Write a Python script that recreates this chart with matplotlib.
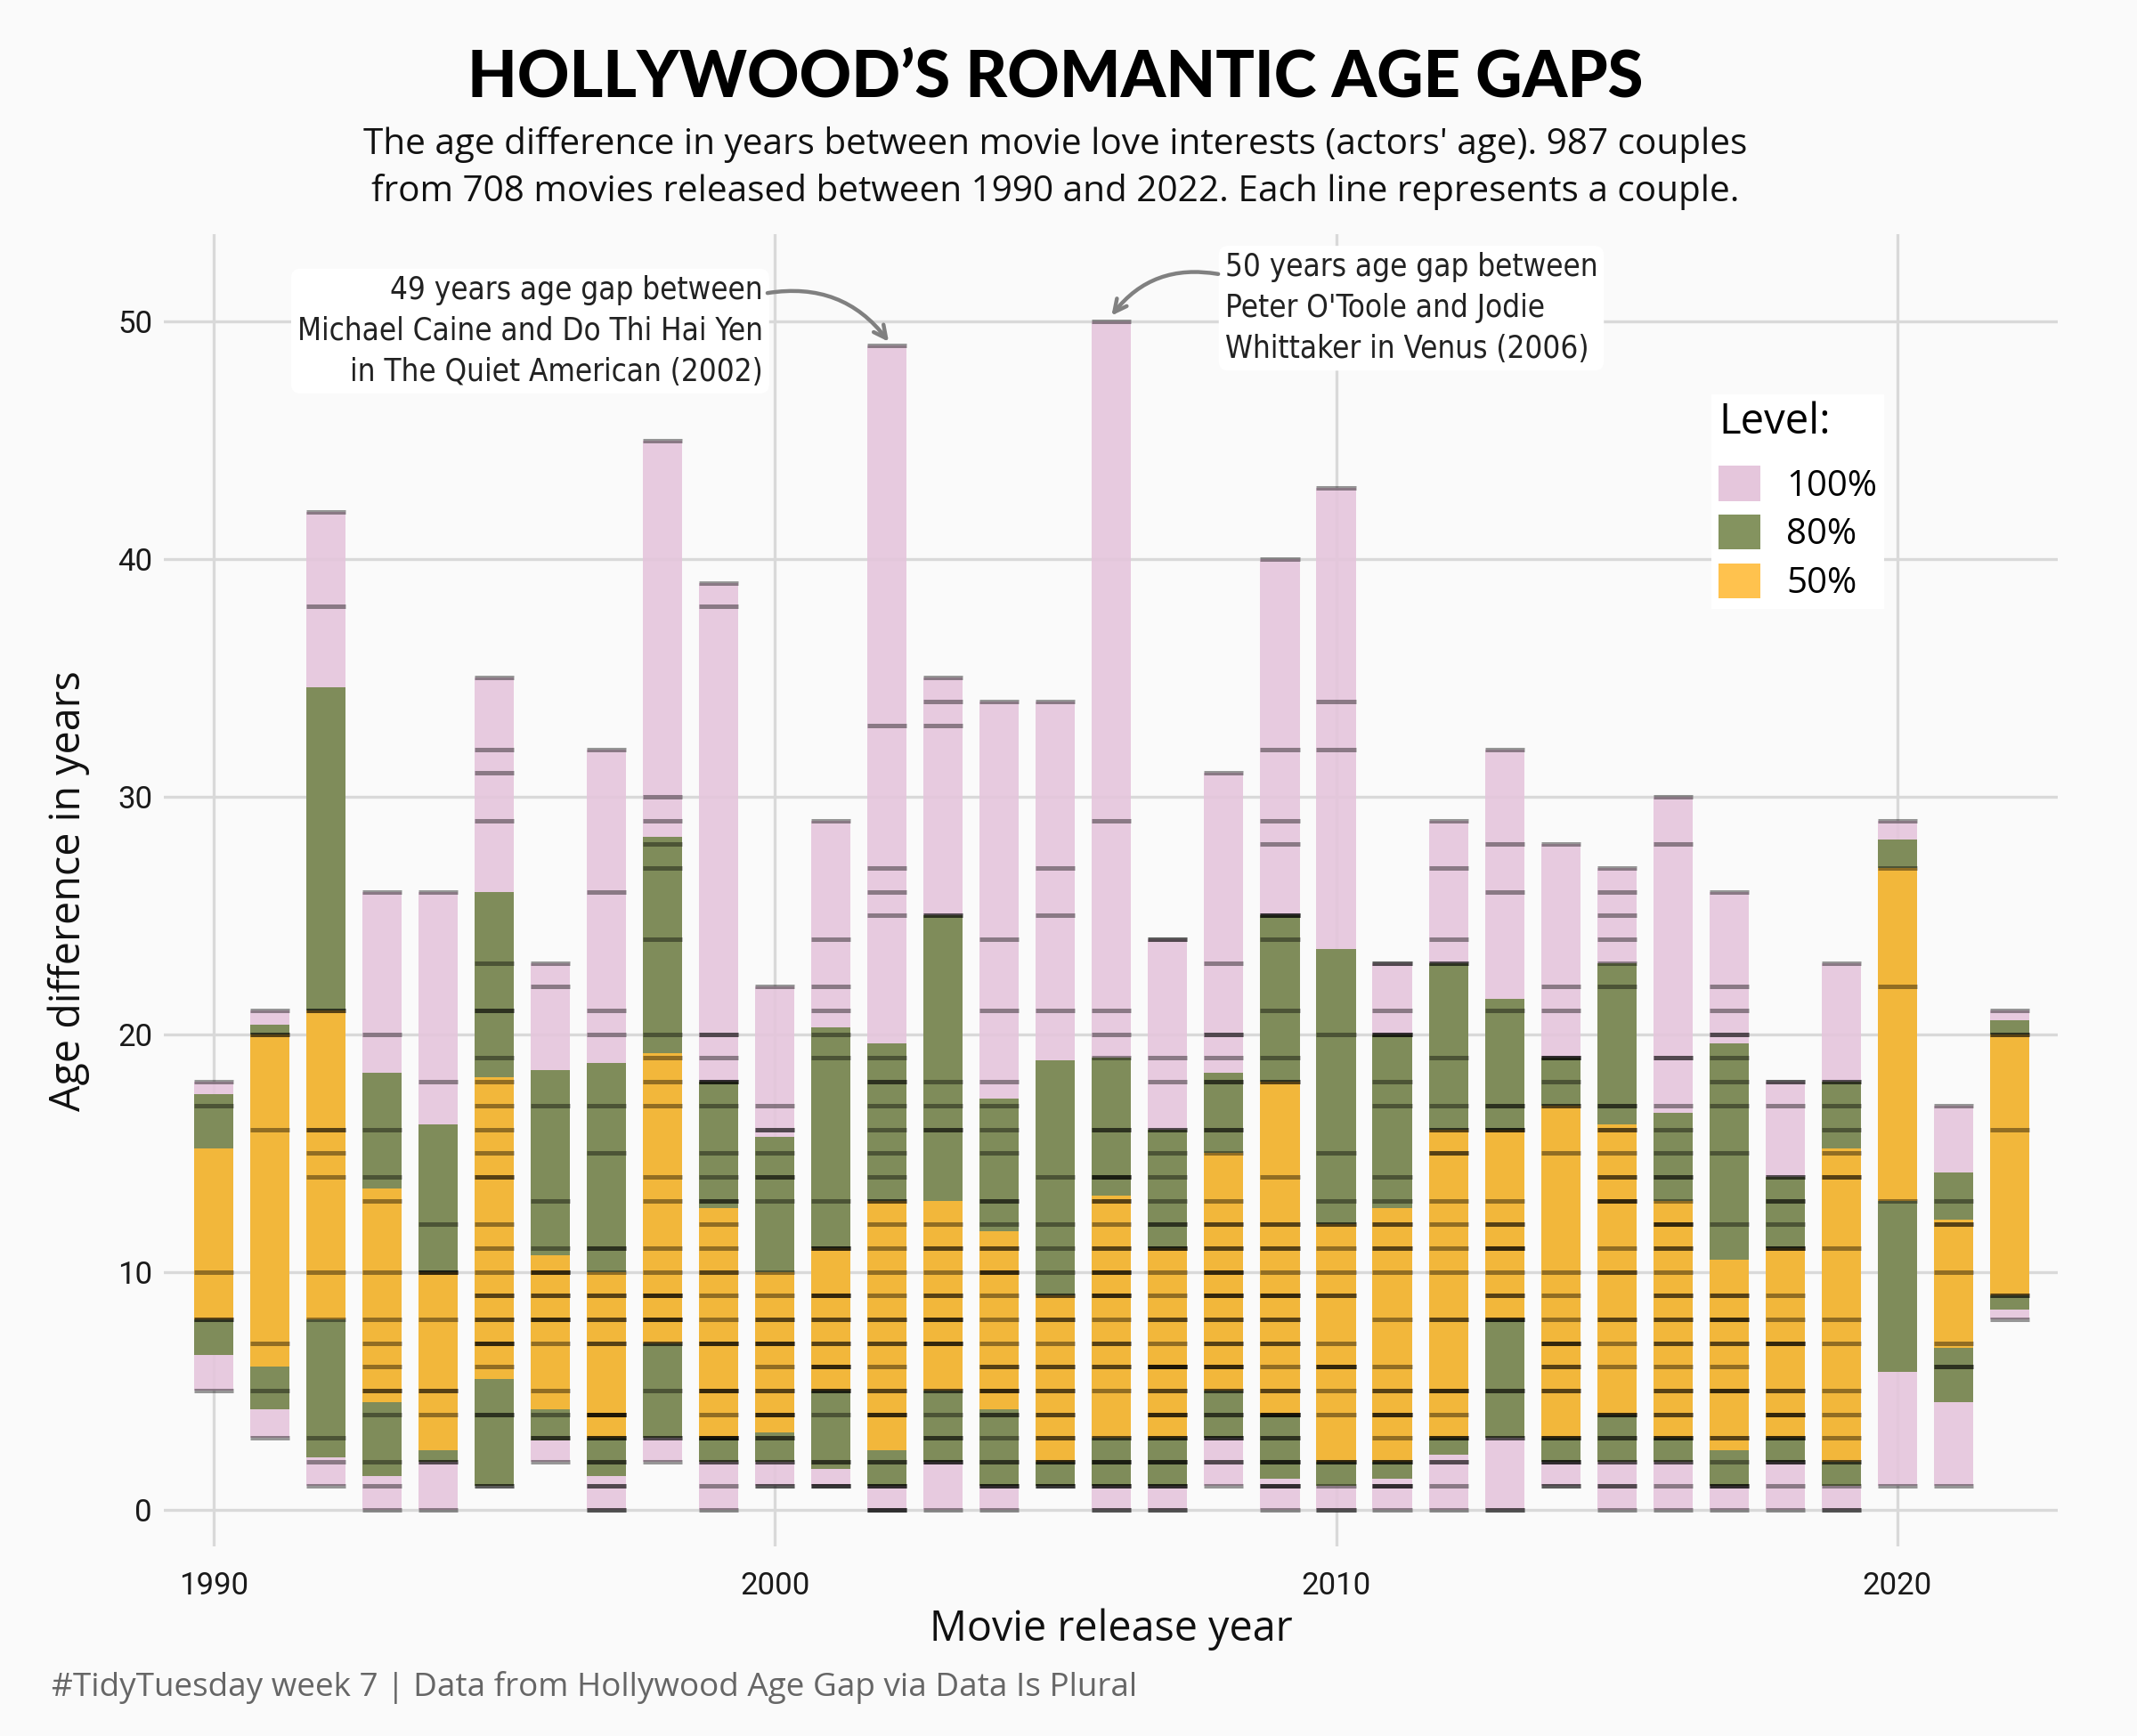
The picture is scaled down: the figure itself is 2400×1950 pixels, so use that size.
import matplotlib
matplotlib.use("Agg")
import matplotlib.pyplot as plt
from matplotlib.patches import Patch

years = list(range(1990, 2023))

# interval edges (80% and 50% ranges)
lo80 = [6.5, 4.2, 2.2, 1.4, 2, 1, 2.9, 1.4, 3, 2,
        2, 1.7, 1, 2, 1, 1, 1, 1, 3, 1.3,
        1, 1.3, 2.3, 3, 2, 2, 2, 1, 2, 1,
        5.8, 4.5, 8.4]
lo50 = [8, 6, 8, 4.5, 2.5, 5.5, 4.2, 3, 7, 3,
        3.25, 5, 2.5, 5, 4.2, 2, 3, 3, 5, 4,
        2, 2, 3, 8, 3, 4, 3, 2.5, 3, 2,
        13, 6.8, 9]
hi50 = [15.2, 20, 21, 13.5, 10, 18.2, 10.7, 10, 19.2, 12.7,
        10, 11, 13, 13, 11.7, 9, 13.2, 11, 15, 18,
        12, 12.7, 16, 16, 17, 16.2, 13, 10.5, 11, 15.2,
        27, 12.2, 20]
hi80 = [17.5, 20.4, 34.6, 18.4, 16.2, 26, 18.5, 18.8, 28.3, 18,
        15.7, 20.3, 19.6, 25, 17.3, 18.9, 19, 16, 18.4, 25,
        23.6, 20, 23, 21.5, 19, 23, 16.7, 19.6, 14, 18,
        28.2, 14.2, 20.6]

# couples per year: (age gap, number of couples)
couples = [
    [(18, 1), (17, 1), (10, 1), (8, 2), (5, 1)],
    [(21, 1), (20, 2), (16, 1), (7, 1), (5, 1), (3, 1)],
    [(42, 1), (38, 1), (21, 2), (16, 2), (15, 1), (14, 1), (10, 1), (8, 1), (3, 1), (2, 1), (1, 1)],
    [(26, 1), (20, 1), (16, 1), (14, 1), (13, 1), (10, 1), (8, 1), (7, 1), (6, 1), (5, 2), (4, 1),
     (2, 1), (1, 1), (0, 1)],
    [(26, 1), (18, 1), (12, 1), (10, 3), (8, 1), (5, 2), (4, 1), (2, 2), (0, 1)],
    [(35, 1), (32, 1), (31, 1), (29, 1), (23, 1), (21, 2), (19, 1), (18, 1), (17, 1), (16, 1),
     (15, 1), (14, 2), (12, 1), (11, 1), (10, 1), (9, 2), (8, 2), (7, 3), (6, 1), (4, 2), (1, 2)],
    [(23, 1), (22, 1), (17, 1), (13, 1), (11, 1), (10, 3), (9, 2), (8, 3), (7, 1), (5, 1), (4, 1),
     (3, 2), (2, 1)],
    [(32, 1), (26, 1), (21, 1), (20, 1), (17, 1), (15, 1), (11, 2), (10, 1), (9, 2), (8, 2), (7, 2),
     (4, 4), (3, 3), (2, 2), (1, 2), (0, 2)],
    [(45, 1), (30, 1), (29, 1), (28, 1), (27, 1), (24, 1), (20, 1), (19, 1), (18, 1), (17, 1),
     (14, 1), (13, 1), (11, 1), (10, 1), (9, 3), (8, 3), (7, 2), (5, 1), (3, 2), (2, 1)],
    [(39, 1), (38, 1), (20, 2), (19, 1), (18, 3), (17, 1), (15, 1), (14, 1), (13, 2), (12, 1),
     (11, 1), (10, 2), (9, 1), (8, 1), (7, 3), (5, 3), (4, 1), (3, 4), (2, 2), (1, 1), (0, 1)],
    [(22, 1), (17, 1), (16, 2), (15, 1), (14, 2), (13, 1), (10, 1), (9, 1), (8, 2), (7, 3), (6, 1),
     (5, 2), (4, 3), (3, 2), (2, 2), (1, 2)],
    [(29, 1), (24, 1), (22, 1), (21, 1), (20, 1), (19, 1), (13, 1), (11, 3), (9, 3), (8, 2), (7, 2),
     (6, 3), (5, 3), (4, 1), (2, 2), (1, 3)],
    [(49, 1), (33, 1), (27, 1), (26, 1), (25, 1), (19, 1), (18, 2), (17, 1), (16, 1), (15, 1),
     (14, 1), (13, 2), (12, 1), (11, 1), (10, 1), (9, 1), (8, 2), (7, 2), (6, 1), (5, 2), (4, 3),
     (2, 2), (1, 3), (0, 3)],
    [(35, 1), (34, 1), (33, 1), (25, 2), (18, 1), (17, 1), (16, 2), (12, 1), (11, 2), (10, 1),
     (9, 2), (8, 3), (7, 3), (5, 2), (4, 1), (3, 2), (2, 3), (0, 1)],
    [(34, 1), (24, 1), (21, 1), (18, 1), (17, 1), (16, 1), (15, 1), (13, 2), (12, 1), (11, 2),
     (10, 3), (9, 1), (8, 1), (7, 1), (6, 2), (5, 3), (4, 2), (3, 1), (2, 2), (1, 3), (0, 1)],
    [(34, 1), (27, 1), (25, 1), (21, 1), (14, 1), (12, 1), (11, 1), (10, 1), (9, 2), (8, 2), (7, 1),
     (6, 2), (5, 2), (4, 2), (3, 2), (2, 3), (1, 3)],
    [(50, 1), (29, 1), (21, 1), (20, 1), (19, 1), (16, 2), (14, 3), (13, 2), (12, 1), (11, 2),
     (10, 3), (9, 3), (8, 1), (7, 2), (6, 2), (5, 1), (3, 2), (2, 3), (1, 3), (0, 2)],
    [(24, 2), (19, 1), (18, 1), (16, 2), (15, 1), (14, 1), (13, 1), (12, 2), (11, 3), (10, 1),
     (9, 1), (8, 2), (7, 1), (6, 4), (5, 2), (4, 3), (3, 3), (2, 3), (1, 3), (0, 2)],
    [(31, 1), (23, 1), (20, 2), (19, 1), (18, 2), (16, 2), (15, 1), (13, 1), (12, 2), (11, 2),
     (10, 3), (9, 3), (8, 2), (7, 2), (6, 3), (5, 2), (4, 2), (3, 3), (2, 2), (1, 1)],
    [(40, 1), (32, 1), (29, 1), (28, 1), (25, 3), (24, 1), (21, 1), (19, 1), (18, 2), (14, 1),
     (12, 2), (11, 2), (10, 1), (9, 3), (8, 2), (7, 2), (6, 1), (5, 2), (4, 4), (3, 2), (2, 3),
     (1, 3), (0, 1)],
    [(43, 1), (34, 1), (32, 1), (20, 1), (15, 1), (13, 1), (12, 2), (11, 1), (10, 1), (9, 2), (7, 1),
     (6, 3), (5, 1), (4, 1), (2, 3), (1, 1), (0, 2)],
    [(23, 2), (21, 1), (20, 3), (18, 1), (17, 1), (14, 1), (13, 1), (12, 2), (11, 2), (10, 1),
     (8, 1), (6, 1), (5, 2), (4, 3), (3, 1), (2, 3), (1, 3), (0, 1)],
    [(29, 1), (27, 1), (24, 1), (23, 2), (19, 1), (17, 1), (16, 2), (15, 2), (13, 1), (12, 1),
     (11, 1), (10, 1), (8, 2), (5, 3), (4, 1), (3, 3), (2, 2), (1, 1), (0, 1)],
    [(32, 1), (28, 1), (26, 1), (21, 1), (17, 2), (16, 3), (13, 1), (12, 2), (11, 3), (10, 1),
     (9, 2), (8, 3), (5, 2), (3, 2), (0, 2)],
    [(28, 1), (22, 1), (21, 1), (19, 3), (18, 1), (17, 2), (15, 1), (10, 1), (9, 1), (8, 1), (7, 3),
     (6, 2), (5, 2), (3, 3), (2, 3), (1, 2)],
    [(27, 1), (26, 1), (25, 1), (24, 1), (23, 1), (22, 1), (17, 2), (16, 2), (15, 1), (14, 2),
     (13, 3), (11, 1), (10, 2), (8, 2), (7, 1), (6, 1), (4, 3), (3, 2), (2, 2), (1, 2), (0, 1)],
    [(30, 1), (28, 1), (19, 2), (17, 1), (16, 1), (15, 1), (14, 2), (13, 1), (12, 3), (11, 2),
     (10, 1), (9, 2), (8, 2), (7, 2), (6, 1), (5, 2), (4, 2), (3, 3), (2, 2), (1, 1), (0, 1)],
    [(26, 1), (22, 1), (21, 1), (20, 2), (19, 1), (18, 1), (17, 1), (15, 1), (12, 1), (9, 2),
     (8, 3), (7, 2), (6, 1), (5, 3), (3, 2), (2, 1), (1, 3), (0, 1)],
    [(18, 2), (17, 1), (14, 2), (13, 2), (12, 1), (11, 3), (9, 1), (8, 1), (7, 3), (5, 2), (4, 3),
     (3, 3), (2, 3), (1, 1), (0, 1)],
    [(23, 1), (18, 2), (17, 1), (16, 1), (15, 1), (14, 2), (11, 1), (8, 1), (7, 1), (5, 1), (4, 1),
     (3, 1), (2, 2), (1, 1), (0, 2)],
    [(29, 1), (27, 1), (22, 1), (13, 1), (1, 1)],
    [(17, 1), (13, 1), (12, 2), (10, 1), (7, 1), (6, 2), (1, 1)],
    [(21, 1), (20, 2), (16, 1), (9, 2), (8, 1)],
]

level_labels = ["100%", "80%", "50%"]

PINK = "#e5c5dc"
OLIVE = "#7f8c5a"
ORANGE = "#f2b73b"
BG = "#fafafa"
TEXT_FONT = ["Open Sans", "DejaVu Sans"]
TICK_FONT = ["Roboto", "DejaVu Sans"]
NOTE_FONT = ["DejaVu Sans Condensed", "DejaVu Sans"]

lo100 = [min(g for g, n in c) for c in couples]
hi100 = [max(g for g, n in c) for c in couples]

fig = plt.figure(figsize=(12, 9.75), dpi=200, facecolor=BG)
ax = fig.add_axes([0.0765, 0.109, 0.8865, 0.756])
ax.set_facecolor(BG)

w = 0.7
ax.bar(years, [h - l for l, h in zip(lo100, hi100)], bottom=lo100, width=w,
       color=PINK, alpha=0.9, linewidth=0, zorder=2)
ax.bar(years, [h - l for l, h in zip(lo80, hi80)], bottom=lo80, width=w,
       color=OLIVE, linewidth=0, zorder=3)
ax.bar(years, [h - l for l, h in zip(lo50, hi50)], bottom=lo50, width=w,
       color=ORANGE, linewidth=0, zorder=4)

# one line per couple, overlapping ones get darker
ys, x0, x1 = [], [], []
for yr, c in zip(years, couples):
    for gap, n in c:
        for _ in range(n):
            ys.append(gap)
            x0.append(yr - w / 2)
            x1.append(yr + w / 2)
ax.hlines(ys, x0, x1, colors="black", alpha=0.4, linewidth=1.8, zorder=5)

ax.set_xlim(1989.11, 2022.86)
ax.set_ylim(-1.57, 53.67)
ax.set_xticks([1990, 2000, 2010, 2020])
ax.set_yticks([0, 10, 20, 30, 40, 50])
ax.grid(color="#d9d9d9", linewidth=1.2)
ax.set_axisbelow(True)
for s in ax.spines.values():
    s.set_visible(False)
ax.tick_params(axis="both", length=0, labelsize=12.5, colors="#1a1a1a")
ax.tick_params(axis="y", pad=4.5)
ax.tick_params(axis="x", pad=10)
for lab in ax.get_xticklabels() + ax.get_yticklabels():
    lab.set_family(TICK_FONT)

# annotations
ax.text(1999.79, 49.6, "49 years age gap between\nMichael Caine and Do Thi Hai Yen\nin The Quiet American (2002)",
        ha="right", va="center", fontsize=12.5, family=NOTE_FONT, fontstretch="condensed",
        color="#222222", linespacing=1.45,
        bbox=dict(boxstyle="round,pad=0.2,rounding_size=0.3", fc="white", ec="none"), zorder=6)
ax.annotate("", xy=(2002.03, 49.15), xytext=(1999.87, 51.2),
            arrowprops=dict(arrowstyle="->,head_length=0.5,head_width=0.25", color="#808080", lw=1.6,
                            connectionstyle="arc3,rad=-0.3", shrinkA=0, shrinkB=0), zorder=6)
ax.text(2008.02, 50.56, "50 years age gap between\nPeter O'Toole and Jodie\nWhittaker in Venus (2006)",
        ha="left", va="center", fontsize=12.5, family=NOTE_FONT, fontstretch="condensed",
        color="#222222", linespacing=1.45,
        bbox=dict(boxstyle="round,pad=0.2,rounding_size=0.3", fc="white", ec="none"), zorder=6)
ax.annotate("", xy=(2006.0, 50.25), xytext=(2007.9, 52.0),
            arrowprops=dict(arrowstyle="->,head_length=0.5,head_width=0.25", color="#808080", lw=1.6,
                            connectionstyle="arc3,rad=0.3", shrinkA=0, shrinkB=0), zorder=6)

handles = [Patch(facecolor=c, edgecolor="none") for c in ["#e5c6dc", "#84935f", "#ffc24e"]]
leg = fig.legend(handles, level_labels, title="Level:", loc="upper left",
                 bbox_to_anchor=(0.801, 0.773), borderaxespad=0, frameon=True,
                 facecolor="white", edgecolor="none", fancybox=False, framealpha=1,
                 prop={"family": TEXT_FONT, "size": 14.5},
                 title_fontproperties={"family": TEXT_FONT, "size": 17},
                 handlelength=1.16, handleheight=1.13, handletextpad=0.72, labelspacing=0.28,
                 borderpad=0.2, alignment="left")
leg._legend_box.sep = 9

fig.text(0.494, 0.955, "HOLLYWOOD\u2019S ROMANTIC AGE GAPS", ha="center", va="center",
         fontsize=26, fontweight="black", family=["Lato", "DejaVu Sans"], color="black")
fig.text(0.494, 0.903,
         "The age difference in years between movie love interests (actors' age). 987 couples\n"
         "from 708 movies released between 1990 and 2022. Each line represents a couple.",
         ha="center", va="center", fontsize=14.6, family=TEXT_FONT, color="#111111", linespacing=1.4)
fig.text(0.032, 0.487, "Age difference in years", rotation=90, ha="center", va="center",
         fontsize=16.8, family=TEXT_FONT, color="#111111")
fig.text(0.52, 0.0615, "Movie release year", ha="center", va="center",
         fontsize=16.8, family=TEXT_FONT, color="#111111")
fig.text(0.024, 0.028, "#TidyTuesday week 7 | Data from Hollywood Age Gap via Data Is Plural",
         ha="left", va="center", fontsize=13.3, family=TEXT_FONT, color="#666666")

fig.savefig("out.png", dpi=200, facecolor=BG)
